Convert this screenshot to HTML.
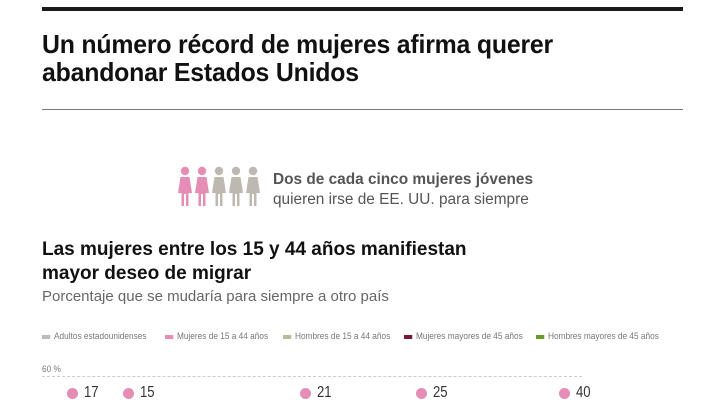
<!DOCTYPE html>
<html><head><meta charset="utf-8"><style>
body{margin:0;width:720px;height:405px;overflow:hidden;background:#fff;font-family:"Liberation Sans",sans-serif;position:relative}
.a{position:absolute;white-space:nowrap}
.t{font-weight:bold;font-size:26px;color:#111;transform:scaleX(.955);transform-origin:left top;letter-spacing:-.2px;line-height:28px}
.lg{font-size:9px;color:#777;transform:scaleX(.92);transform-origin:left top}
.sw{display:inline-block;width:9px;height:4px;vertical-align:middle;margin-right:4px}
.dot{position:absolute;width:11px;height:11px;border-radius:50%;background:#e58db4}
.n{font-size:16px;color:#333;transform:scaleX(.82);transform-origin:left top}
</style></head><body>
<div class="a" style="left:42px;top:7px;width:641px;height:4px;background:#1a1a1a"></div>
<div class="a t" style="left:42px;top:30px">Un número récord de mujeres afirma querer<br>abandonar Estados Unidos</div>
<div class="a" style="left:42px;top:109px;width:641px;height:1px;background:#777"></div>
<svg class="a" style="left:176px;top:166px" width="88" height="42" viewBox="0 0 88 42">
<defs><g id="w"><circle cx="9" cy="5" r="4.2"/><path d="M4.5 11h9l2.5 16h-3.5v13h-2.5v-12h-2v12H5.5V27H2z"/></g></defs>
<use href="#w" x="0" fill="#e58db4"/><use href="#w" x="17" fill="#e58db4"/><use href="#w" x="34" fill="#bdb8b0"/><use href="#w" x="51" fill="#bdb8b0"/><use href="#w" x="68" fill="#bdb8b0"/>
</svg>
<div class="a" style="left:273px;top:171px;font-size:15.4px;font-weight:bold;color:#555">Dos de cada cinco mujeres jóvenes</div>
<div class="a" style="left:273px;top:191px;font-size:15.4px;color:#555">quieren irse de EE. UU. para siempre</div>
<div class="a" style="left:42px;top:238px;font-size:19px;font-weight:bold;color:#111;line-height:24px">Las mujeres entre los 15 y 44 años manifiestan<br>mayor deseo de migrar</div>
<div class="a" style="left:42px;top:288px;font-size:15px;color:#666">Porcentaje que se mudaría para siempre a otro país</div>
<div class="a lg" style="left:42px;top:331px"><span class="sw" style="background:#bbb"></span>Adultos estadounidenses</div>
<div class="a lg" style="left:165px;top:331px"><span class="sw" style="background:#e58db4"></span>Mujeres de 15 a 44 años</div>
<div class="a lg" style="left:283px;top:331px"><span class="sw" style="background:#b5bd9a"></span>Hombres de 15 a 44 años</div>
<div class="a lg" style="left:404px;top:331px"><span class="sw" style="background:#7a1a3a"></span>Mujeres mayores de 45 años</div>
<div class="a lg" style="left:536px;top:331px"><span class="sw" style="background:#6a9a2a"></span>Hombres mayores de 45 años</div>
<div class="a lg" style="left:42px;top:364px">60 %</div>
<div class="a" style="left:42px;top:376px;width:540px;border-top:1px dashed #ccc"></div>
<div class="dot" style="left:67px;top:388px"></div><div class="a n" style="left:84px;top:384px">17</div>
<div class="dot" style="left:123px;top:388px"></div><div class="a n" style="left:140px;top:384px">15</div>
<div class="dot" style="left:300px;top:388px"></div><div class="a n" style="left:317px;top:384px">21</div>
<div class="dot" style="left:416px;top:388px"></div><div class="a n" style="left:433px;top:384px">25</div>
<div class="dot" style="left:559px;top:388px"></div><div class="a n" style="left:576px;top:384px">40</div>
</body></html>
